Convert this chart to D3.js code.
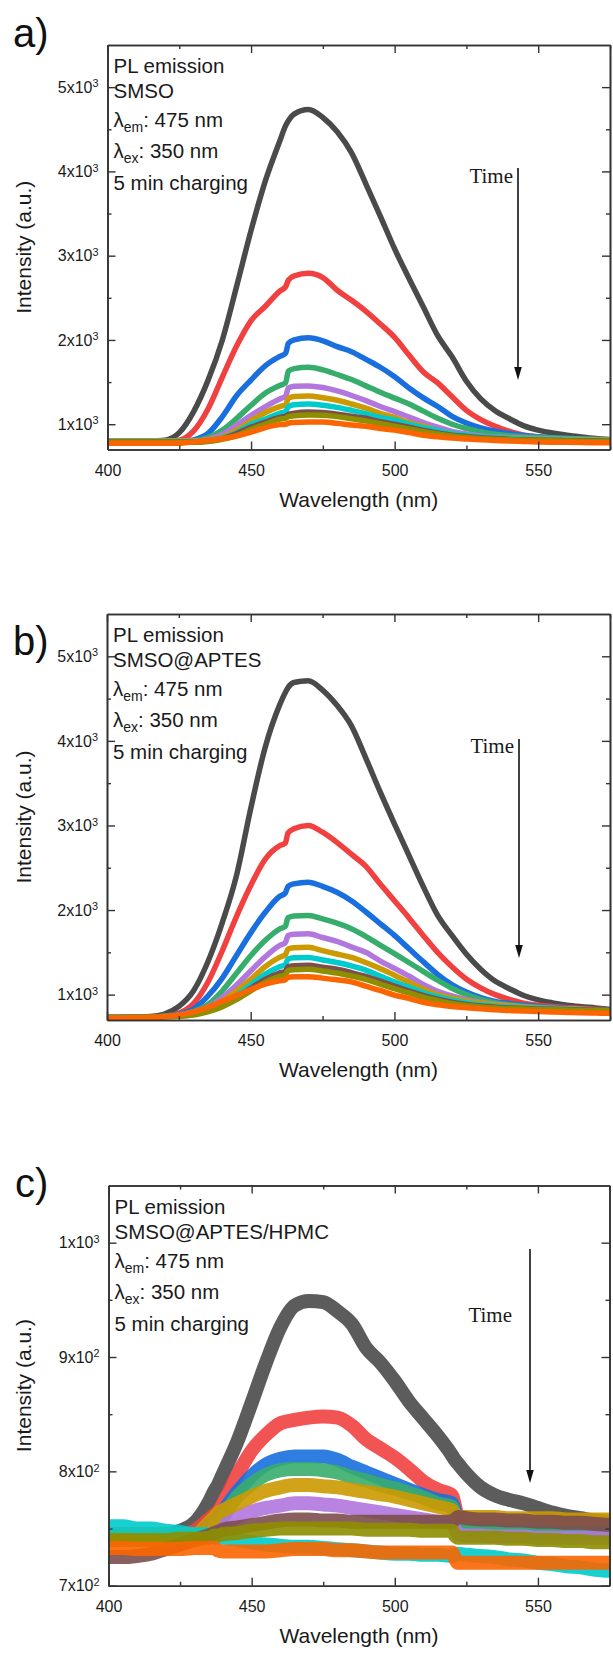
<!DOCTYPE html>
<html><head><meta charset="utf-8">
<script src="https://cdn.jsdelivr.net/npm/d3@7"></script>
<style>
html,body{margin:0;padding:0;background:#fff;}
svg{display:block;}
</style></head>
<body>
<svg id="chart" width="613" height="1663"></svg>
<script>
// ---------------- DATA ----------------
const seriesColors = ["#4a4a4a","#f14040","#1a6fdf","#37ad6b","#b177de","#cc9900","#00cbcc","#7d4e4e","#8e8e00","#fb6501"];

const xMajorTicks = [400, 450, 500, 550];
const xMinorTicks = [425, 475, 525, 575];

// Wavelength grid for panels a) and b)
const wavelengthAB = [400,405,410,415,420,425,430,435,440,445,450,455,460,462,463,465,470,475,480,485,490,495,500,505,510,515,520,525,530,535,540,545,550,555,560,565,570,575];

// a) SMSO — one row per time step (first = earliest)
const intensityA = [
  [800,800,800,800,810,900,1150,1520,2000,2640,3300,3890,4360,4540,4600,4680,4735,4640,4470,4220,3850,3470,3080,2730,2390,2050,1800,1510,1300,1160,1065,980,930,895,870,850,832,818],
  [795,795,795,795,795,810,920,1180,1560,1930,2230,2400,2580,2630,2710,2760,2790,2740,2590,2470,2340,2190,2030,1820,1620,1490,1325,1165,1055,975,915,870,850,838,828,820,812,810],
  [795,795,795,795,795,795,815,890,1090,1340,1525,1695,1805,1840,1960,2000,2025,1990,1920,1860,1770,1676,1563,1430,1312,1210,1094,1014,957,918,890,866,850,840,832,822,815,810],
  [800,800,800,800,800,800,805,840,930,1070,1225,1370,1460,1490,1630,1660,1675,1645,1590,1530,1455,1380,1310,1240,1155,1070,1000,950,908,880,862,850,845,838,830,825,820,815],
  [800,800,800,800,800,800,800,820,880,990,1105,1210,1300,1330,1430,1450,1455,1435,1395,1341,1280,1210,1150,1085,1020,965,915,885,860,848,840,835,830,825,822,820,818,815],
  [800,800,800,800,800,800,800,810,850,930,1040,1140,1210,1230,1310,1330,1335,1315,1285,1240,1190,1130,1080,1020,980,925,890,865,845,838,832,828,825,822,820,817,815,812],
  [795,795,795,795,795,795,795,805,840,900,1000,1060,1130,1150,1210,1230,1240,1225,1200,1165,1125,1080,1050,1000,960,925,890,870,850,840,830,825,820,815,812,810,807,805],
  [790,790,790,790,790,790,790,800,830,890,965,1025,1080,1095,1115,1130,1145,1140,1120,1095,1070,1030,1000,965,925,895,870,855,840,830,820,815,810,808,805,803,801,800],
  [785,785,785,785,785,785,785,795,820,865,940,1000,1060,1070,1090,1100,1110,1105,1090,1065,1040,1005,975,945,910,885,860,845,830,822,815,810,806,803,800,798,796,795],
  [775,775,775,775,775,775,790,810,830,860,905,960,995,1000,1012,1020,1027,1025,1010,990,975,950,930,900,870,850,835,825,815,808,800,795,790,787,785,783,781,780]
];

// b) SMSO@APTES
const intensityB = [
  [730,730,735,740,770,860,1040,1380,1840,2400,3200,3920,4420,4570,4630,4690,4710,4600,4420,4180,3800,3400,3020,2650,2280,1940,1700,1480,1300,1160,1070,990,938,903,875,857,843,826],
  [730,730,732,735,745,780,890,1140,1510,1920,2290,2600,2760,2790,2910,2960,3000,2920,2800,2660,2520,2310,2110,1910,1700,1500,1330,1185,1080,1000,945,900,875,860,848,838,828,818],
  [730,730,732,735,745,770,830,980,1190,1460,1730,1970,2160,2200,2280,2310,2330,2280,2210,2110,1980,1840,1700,1545,1390,1240,1120,1030,965,920,895,875,860,848,838,828,818,810],
  [730,730,732,735,742,760,800,880,1040,1250,1460,1640,1775,1805,1910,1930,1935,1895,1845,1780,1690,1585,1485,1380,1275,1170,1075,1000,945,905,880,862,850,840,832,825,818,812],
  [730,730,732,735,740,755,785,850,960,1110,1280,1445,1580,1610,1700,1715,1720,1675,1630,1565,1500,1400,1310,1220,1120,1040,985,940,910,885,868,855,845,837,830,824,818,814],
  [730,730,732,735,740,752,775,830,920,1040,1180,1330,1440,1470,1540,1555,1560,1520,1480,1440,1380,1310,1230,1150,1065,1000,960,925,900,880,865,852,843,836,830,824,819,815],
  [730,730,732,735,740,750,770,815,890,990,1115,1240,1330,1355,1420,1435,1440,1410,1380,1340,1290,1220,1150,1090,1025,975,935,905,880,862,850,842,835,830,826,822,819,816],
  [730,730,732,735,740,748,765,805,870,960,1075,1180,1255,1275,1330,1342,1348,1325,1300,1260,1215,1160,1100,1045,990,945,910,885,865,852,843,836,830,826,823,820,818,817],
  [730,730,732,735,740,745,760,795,855,940,1045,1145,1215,1235,1285,1295,1300,1280,1255,1220,1180,1125,1070,1020,970,930,895,872,855,843,835,829,824,820,817,814,812,810],
  [725,725,727,730,740,760,795,850,920,990,1060,1125,1165,1175,1205,1210,1212,1195,1175,1150,1100,1050,995,955,910,880,860,845,832,820,812,805,800,795,790,786,782,779]
];

// Wavelength grid for panel c)
const wavelengthC = [400,405,410,415,420,425,430,435,437,438,440,445,450,455,460,465,470,475,480,485,490,495,500,505,510,515,520,521,522,525,530,535,540,545,550,555,560,565,570,575];

// c) SMSO@APTES/HPMC
const intensityC = [
  [745,745,745,745,745,748,755,773,783,787,798,826,860,895,926,945,949,948,940,929,908,895,879,861,846,831,814,810,807,798,786,779,775,772,768,764,761,759,757,756],
  [745,745,745,745,745,745,748,758,762,764,772,797,818,832,842,845,847,848,847,840,828,820,812,802,791,784,779,770,760,758,756,755,755,754,754,753,753,752,752,752],
  [745,745,745,745,745,745,745,752,756,758,765,782,796,806,811,813,813,813,810,804,799,794,789,784,779,775,772,765,758,756,755,754,753,752,752,751,751,750,750,750],
  [745,745,745,745,745,745,745,745,750,753,760,778,789,797,801,802,802,801,799,795,792,788,785,781,777,772,769,760,752,750,749,748,748,747,747,747,746,746,746,746],
  [745,745,745,745,745,745,745,745,747,748,752,760,765,768,770,772,772,771,770,768,766,764,762,760,758,756,755,750,745,744,744,743,743,743,742,742,742,742,742,742],
  [745,745,745,745,745,745,745,755,760,763,766,772,778,783,786,788,788,787,786,784,782,780,778,775,772,769,766,762,760,760,760,760,759,759,759,759,758,758,758,758],
  [752,752,750,750,748,747,745,745,743,742,742,740,738,736,735,734,734,733,732,731,730,729,728,728,727,727,726,727,728,727,726,725,723,722,720,719,717,716,714,713],
  [725,725,726,728,732,736,740,744,746,747,749,751,753,755,757,758,758,757,757,756,756,756,756,756,756,756,756,758,760,759,758,758,757,757,756,756,755,755,754,753],
  [740,740,740,740,740,741,741,742,744,744,745,746,748,749,750,750,750,750,750,750,749,749,749,749,748,748,748,744,742,742,742,742,741,741,740,740,739,739,738,738],
  [733,733,732,732,732,732,733,733,733,731,730,730,730,730,731,732,732,732,731,731,730,729,729,729,729,729,729,724,720,720,720,720,720,720,720,720,720,720,720,720]
];

const yMajorAB = [1000, 2000, 3000, 4000, 5000];
const yMinorAB = [1500, 2500, 3500, 4500];
const yLabelsAB = [["1","3"],["2","3"],["3","3"],["4","3"],["5","3"]];
const yMajorC = [700, 800, 900, 1000];
const yMinorC = [750, 850, 950];
const yLabelsC = [["7","2"],["8","2"],["9","2"],["1","3"]];

const sampleNames = ["SMSO", "SMSO@APTES", "SMSO@APTES/HPMC"];
const panelLetters = ["a)", "b)", "c)"];

// ---------------- LAYOUT ----------------
const panels = [
  {letter: panelLetters[0], sample: sampleNames[0], wl: wavelengthAB, data: intensityA,
   left: 107.5, right: 610, top: 45, bottom: 449.5, yDomain: [700, 5500],
   yMajor: yMajorAB, yMinor: yMinorAB, yLabels: yLabelsAB, lw: 5.5, op: 1,
   letterX: 13, letterY: 47, arrowX: 518, arrowTop: 168, arrowBottom: 380, timeX: 513, timeY: 183},
  {letter: panelLetters[1], sample: sampleNames[1], wl: wavelengthAB, data: intensityB,
   left: 107, right: 610, top: 614, bottom: 1020, yDomain: [700, 5500],
   yMajor: yMajorAB, yMinor: yMinorAB, yLabels: yLabelsAB, lw: 5.5, op: 1,
   letterX: 13, letterY: 655, arrowX: 519, arrowTop: 739, arrowBottom: 958, timeX: 514, timeY: 753},
  {letter: panelLetters[2], sample: sampleNames[2], wl: wavelengthC, data: intensityC,
   left: 108.5, right: 609.5, top: 1185.5, bottom: 1585.7, yDomain: [700, 1050],
   yMajor: yMajorC, yMinor: yMinorC, yLabels: yLabelsC, lw: 14, op: 0.9,
   letterX: 15, letterY: 1197, arrowX: 530, arrowTop: 1249, arrowBottom: 1483, timeX: 512, timeY: 1322}
];

const svg = d3.select("#chart");
const FONT = "'Liberation Sans', Arial, Helvetica, sans-serif";
const axisColor = "#333";

panels.forEach((p, pi) => {
  const x = d3.scaleLinear().domain([400, 575]).range([p.left, p.right]);
  const y = d3.scaleLinear().domain(p.yDomain).range([p.bottom, p.top]);
  const g = svg.append("g");

  const clipId = "clip" + pi;
  svg.append("defs").append("clipPath").attr("id", clipId)
    .append("rect").attr("x", p.left).attr("y", p.top)
    .attr("width", p.right - p.left).attr("height", p.bottom - p.top);

  const line = d3.line().x((d, i) => x(p.wl[i])).y(d => y(d)).curve(d3.curveMonotoneX);
  const lines = g.append("g").attr("clip-path", `url(#${clipId})`);
  p.data.forEach((s, si) => {
    lines.append("path").attr("d", line(s))
      .attr("fill", "none").attr("stroke", seriesColors[si])
      .attr("stroke-width", p.lw).attr("stroke-opacity", p.op)
      .attr("stroke-linejoin", "round").attr("stroke-linecap", "butt");
  });

  const styleAxis = sel => {
    sel.selectAll(".domain").attr("stroke", axisColor).attr("stroke-width", 1.6);
    sel.selectAll(".tick line").attr("stroke", axisColor).attr("stroke-width", 1.4);
    sel.selectAll("text").attr("font-family", FONT).attr("font-size", 16).attr("fill", "#1a1a1a");
  };

  const bottom = g.append("g").attr("transform", `translate(0,${p.bottom})`)
    .call(d3.axisBottom(x).tickValues(xMajorTicks).tickSizeInner(-8).tickSizeOuter(0).tickPadding(15).tickFormat(d3.format("d")));
  styleAxis(bottom);
  const bottomMinor = g.append("g").attr("transform", `translate(0,${p.bottom})`)
    .call(d3.axisBottom(x).tickValues(xMinorTicks).tickSizeInner(-4).tickSizeOuter(0).tickFormat(""));
  styleAxis(bottomMinor);
  const top = g.append("g").attr("transform", `translate(0,${p.top})`)
    .call(d3.axisTop(x).tickValues(xMajorTicks).tickSizeInner(-8).tickSizeOuter(0).tickFormat(""));
  styleAxis(top);
  const topMinor = g.append("g").attr("transform", `translate(0,${p.top})`)
    .call(d3.axisTop(x).tickValues(xMinorTicks).tickSizeInner(-4).tickSizeOuter(0).tickFormat(""));
  styleAxis(topMinor);

  const left = g.append("g").attr("transform", `translate(${p.left},0)`)
    .call(d3.axisLeft(y).tickValues(p.yMajor).tickSizeInner(-8).tickSizeOuter(0).tickPadding(9));
  styleAxis(left);
  left.selectAll(".tick text").each(function(d, i) {
    const t = d3.select(this);
    const lab = p.yLabels[i];
    t.text(null);
    t.append("tspan").text(lab[0] + "x10");
    t.append("tspan").attr("dy", "-0.5em").attr("font-size", "0.68em").text(lab[1]);
  });
  const leftMinor = g.append("g").attr("transform", `translate(${p.left},0)`)
    .call(d3.axisLeft(y).tickValues(p.yMinor).tickSizeInner(-4).tickSizeOuter(0).tickFormat(""));
  styleAxis(leftMinor);
  const right = g.append("g").attr("transform", `translate(${p.right},0)`)
    .call(d3.axisRight(y).tickValues(p.yMajor).tickSizeInner(-8).tickSizeOuter(0).tickFormat(""));
  styleAxis(right);
  const rightMinor = g.append("g").attr("transform", `translate(${p.right},0)`)
    .call(d3.axisRight(y).tickValues(p.yMinor).tickSizeInner(-4).tickSizeOuter(0).tickFormat(""));
  styleAxis(rightMinor);

  g.append("text").attr("x", (p.left + p.right) / 2).attr("y", p.bottom + 57)
    .attr("text-anchor", "middle").attr("font-family", FONT).attr("font-size", 21).attr("fill", "#1a1a1a")
    .text("Wavelength (nm)");
  g.append("text").attr("transform", `translate(31,${(p.top + p.bottom) / 2}) rotate(-90)`)
    .attr("text-anchor", "middle").attr("font-family", FONT).attr("font-size", 21).attr("fill", "#1a1a1a")
    .text("Intensity (a.u.)");

  g.append("text").attr("x", p.letterX).attr("y", p.letterY)
    .attr("font-family", FONT).attr("font-size", 40).attr("fill", "#111").text(p.letter);

  const tx = p.left + 6;
  const off = [28, 53, 82, 113, 145];
  const ann = g.append("g").attr("font-family", FONT).attr("font-size", 20.5).attr("fill", "#1a1a1a");
  ann.append("text").attr("x", tx).attr("y", p.top + off[0]).text("PL emission");
  ann.append("text").attr("x", tx).attr("y", p.top + off[1]).text(p.sample);
  const l3 = ann.append("text").attr("x", tx).attr("y", p.top + off[2]);
  l3.append("tspan").text("λ");
  l3.append("tspan").attr("dy", 5).attr("font-size", 14).text("em");
  l3.append("tspan").attr("dy", -5).text(": 475 nm");
  const l4 = ann.append("text").attr("x", tx).attr("y", p.top + off[3]);
  l4.append("tspan").text("λ");
  l4.append("tspan").attr("dy", 5).attr("font-size", 14).text("ex");
  l4.append("tspan").attr("dy", -5).text(": 350 nm");
  ann.append("text").attr("x", tx).attr("y", p.top + off[4]).text("5 min charging");

  g.append("text").attr("x", p.timeX).attr("y", p.timeY).attr("text-anchor", "end")
    .attr("font-family", "'Liberation Serif', 'Times New Roman', serif").attr("font-size", 21).attr("fill", "#1a1a1a")
    .text("Time");
  g.append("line").attr("x1", p.arrowX).attr("x2", p.arrowX)
    .attr("y1", p.arrowTop).attr("y2", p.arrowBottom - 10)
    .attr("stroke", "#111").attr("stroke-width", 1.6);
  g.append("path")
    .attr("d", `M${p.arrowX - 3.8},${p.arrowBottom - 13} L${p.arrowX + 3.8},${p.arrowBottom - 13} L${p.arrowX},${p.arrowBottom} Z`)
    .attr("fill", "#111");
});
</script>
</body></html>
